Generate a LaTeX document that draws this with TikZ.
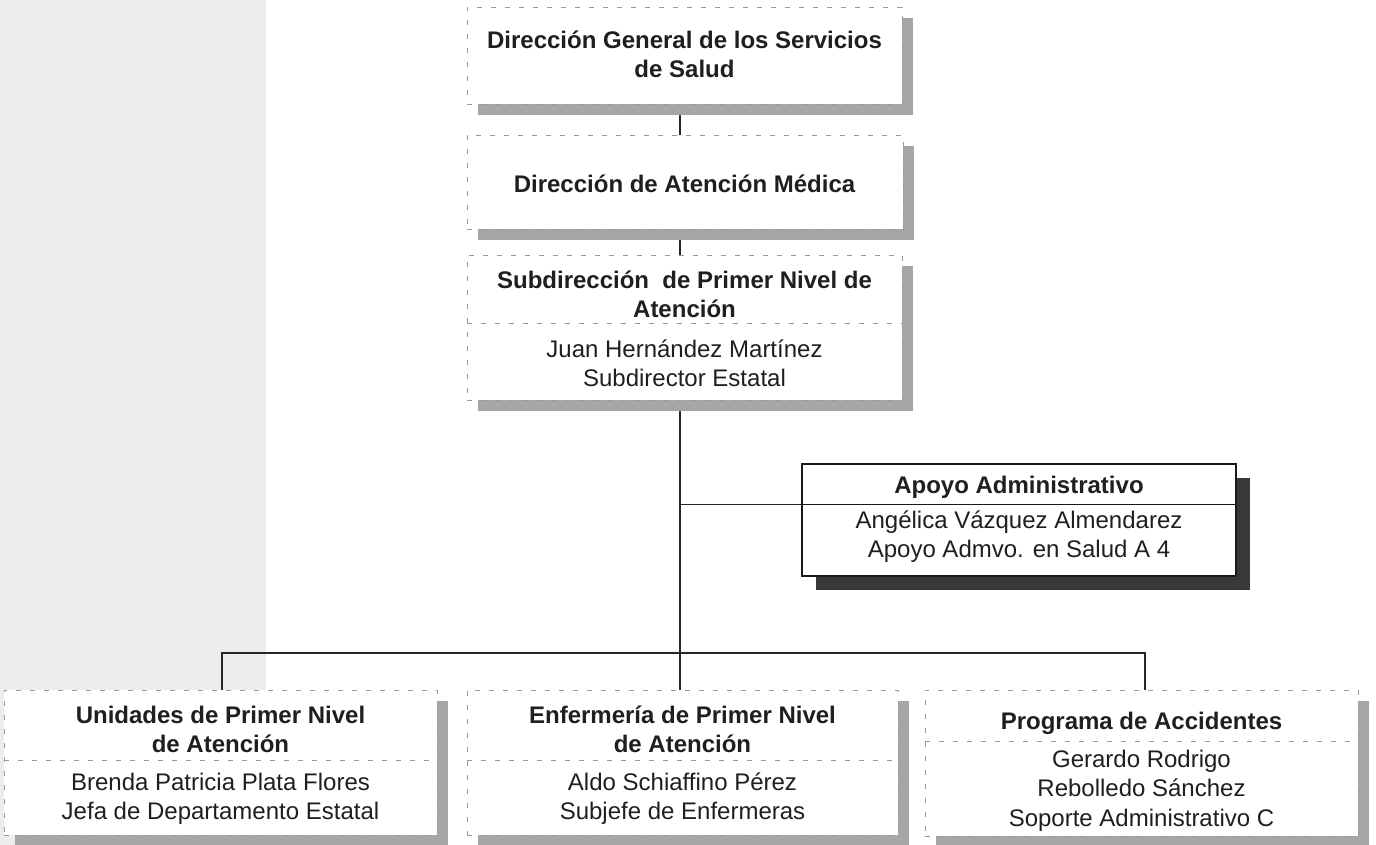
\documentclass[tikz,border=0pt]{standalone}
\usepackage{fontspec}
\setmainfont{Liberation Sans}
\usetikzlibrary{shadows}
\pgfdeclarelayer{back}
\pgfdeclarelayer{background}
\pgfsetlayers{back,background,main}
\begin{document}
\begin{tikzpicture}[x=1pt,y=-1pt,
  dbox/.style={draw=black!40, dash pattern=on 5pt off 9pt, line width=0.9pt, fill=white, inner sep=0pt,
    drop shadow={shadow xshift=11pt, shadow yshift=-11pt, fill=black!35, opacity=1}},
  sbox/.style={draw=black!90, line width=1.3pt, fill=white, inner sep=0pt,
    drop shadow={shadow xshift=14pt, shadow yshift=-14pt, fill=black!78, opacity=1}},
  divline/.style={draw=black!40, dash pattern=on 5pt off 9pt, line width=0.9pt},
  sdiv/.style={draw=black!90, line width=1.3pt},
  conn/.style={draw=black!85, line width=1.3pt},
  txt/.style={anchor=north, inner sep=0pt, align=center, text=black!88, font=\fontsize{24}{29.5}\selectfont},
  ttl/.style={txt, font=\fontsize{24}{29.5}\selectfont\bfseries}
]
\useasboundingbox (0,0) rectangle (1376,845);
\begin{pgfonlayer}{back}
  \fill[black!7] (0,0) rectangle (266,845);
\end{pgfonlayer}

% boxes
\node[dbox, minimum width=435pt, minimum height=97pt] (b1) at (684.5,55.5) {};
\node[dbox, minimum width=436pt, minimum height=94pt] (b2) at (685,182) {};
\node[dbox, minimum width=435pt, minimum height=145pt] (b3) at (684.5,327.5) {};
\node[sbox, minimum width=434pt, minimum height=112pt] (ap) at (1019,520) {};
\node[dbox, minimum width=433pt, minimum height=145pt] (u) at (220.5,762.5) {};
\node[dbox, minimum width=431pt, minimum height=145pt] (e) at (682.5,762.5) {};
\node[dbox, minimum width=433pt, minimum height=146pt] (p) at (1141.5,763) {};

% dividers
\draw[divline] ([yshift=-69pt]b3.north west) -- ([yshift=-69pt]b3.north east);
\coordinate (apdiv) at ([yshift=-41pt]ap.north west);
\draw[sdiv] (apdiv) -- ([yshift=-41pt]ap.north east);
\draw[divline] ([yshift=-71pt]u.north west) -- ([yshift=-71pt]u.north east);
\draw[divline] ([yshift=-71pt]e.north west) -- ([yshift=-71pt]e.north east);
\draw[divline] ([yshift=-52pt]p.north west) -- ([yshift=-52pt]p.north east);

% texts
\node[ttl] (t1) at (684.5,27.3) {\strut Dirección General de los Servicios\\\strut de Salud};
\node[ttl] (t2) at (684.5,171.3) {\strut Dirección de Atención Médica};
\node[ttl] (t3) at (684.5,267.3) {\strut Subdirección\ \ de Primer Nivel de\\\strut Atención};
\node[txt] (t3b) at (684.5,336.3) {\strut Juan Hernández Martínez\\\strut Subdirector Estatal};
\node[ttl] (tap) at (1019,472.3) {\strut Apoyo Administrativo};
\node[txt] (tapb) at (1019,507.3) {\strut Angélica Vázquez Almendarez\\\strut Apoyo Admvo. en Salud A 4};
\node[ttl] (tu) at (220.5,702.3) {\strut Unidades de Primer Nivel\\\strut de Atención};
\node[txt] (tub) at (220.5,769.3) {\strut Brenda Patricia Plata Flores\\\strut Jefa de Departamento Estatal};
\node[ttl] (te) at (682.5,702.3) {\strut Enfermería de Primer Nivel\\\strut de Atención};
\node[txt] (teb) at (682.5,769.3) {\strut Aldo Schiaffino Pérez\\\strut Subjefe de Enfermeras};
\node[ttl] (tp) at (1141.5,708.3) {\strut Programa de Accidentes};
\node[txt] (tpb) at (1141.5,746.3) {\strut Gerardo Rodrigo\\\strut Rebolledo Sánchez\\\strut Soporte Administrativo C};

% connectors
\coordinate (trunk) at (680,0);
\coordinate (busL) at (222,653);
\coordinate (busR) at (1145,653);
\begin{pgfonlayer}{background}
  \draw[conn] (b1.south -| trunk) -- (b2.north -| trunk);
  \draw[conn] (b2.south -| trunk) -- (b3.north -| trunk);
  \draw[conn] (b3.south -| trunk) -- (e.north -| trunk);
  \draw[conn] (apdiv -| trunk) -- (apdiv);
  \draw[conn] (u.north -| busL) -- (busL) -- (busR) -- (p.north -| busR);
\end{pgfonlayer}
\end{tikzpicture}
\end{document}
